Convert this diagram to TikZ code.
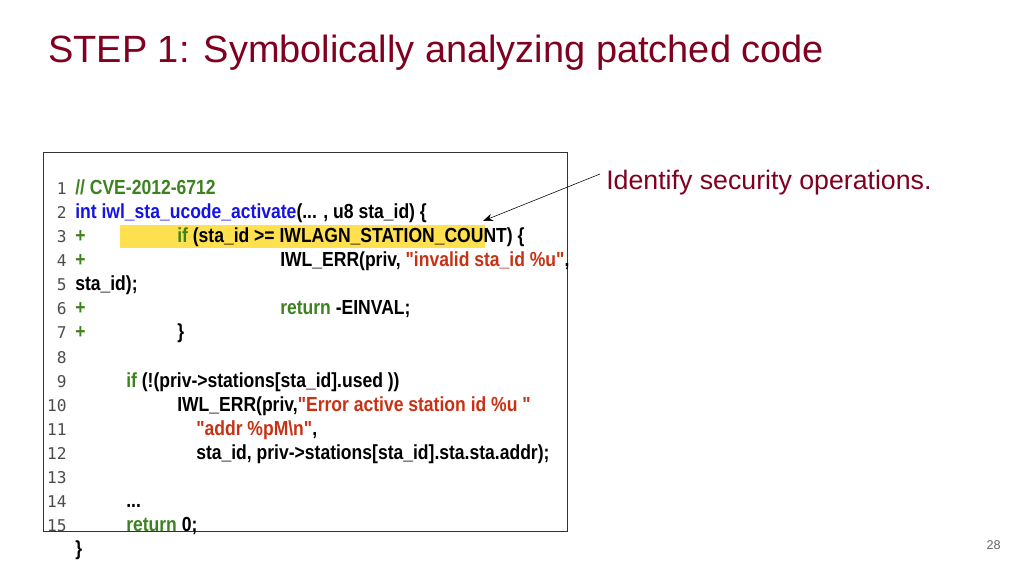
\documentclass[tikz,border=0pt]{standalone}
\usepackage{fontspec}
\setmainfont{Liberation Sans}
\newfontfamily\codefont[FakeStretch=0.86]{Liberation Sans}
\newfontfamily\numfont{DejaVu Sans Mono}
\usetikzlibrary{positioning,arrows.meta}
\definecolor{titlered}{RGB}{128,0,32}
\definecolor{kwblue}{RGB}{20,20,230}
\definecolor{kwgreen}{RGB}{60,130,30}
\definecolor{strred}{RGB}{200,50,20}
\definecolor{hlyellow}{RGB}{255,225,80}
\tikzset{
  code/.style={anchor=base west,inner sep=0pt,font=\codefont\bfseries\fontsize{14.5}{16}\selectfont},
  lineno/.style={anchor=base east,inner sep=0pt,text=black!70,font=\numfont\fontsize{11.5}{13}\selectfont}
}
\newcommand{\kwb}[1]{\textcolor{kwblue}{#1}}
\newcommand{\kwg}[1]{\textcolor{kwgreen}{#1}}
\newcommand{\str}[1]{\textcolor{strred}{#1}}
\begin{document}
\begin{tikzpicture}[x=0.025cm,y=-0.025cm]
    \useasboundingbox[fill=white] (0,0) rectangle (1024,576);
    \node[anchor=base west,inner sep=0pt,text=titlered,font=\fontsize{27}{31}\selectfont] (title) at (48,63) {STEP 1: Symbolically analyzing patched code};
    % code box
    \draw[black!80] (43,152) rectangle (567,531);
    \fill[hlyellow] (120,225) rectangle (485,248);
    \foreach \n in {1,...,15}
        \node[lineno] (n\n) at (67,{171+24*\n}) {\n};
    \node[code] (l1) at (75,195) {\kwg{// CVE-2012-6712}};
    \node[code] (l2) at (75,219) {\kwb{int iwl\_sta\_ucode\_activate}(... , u8 sta\_id) \{};
    \node[code] (l3a) at (75,243) {\kwg{+}};
    \node[code] (l3) at (177,243) {\kwg{if} (sta\_id >= IWLAGN\_STATION\_COUNT) \{};
    \node[code] (l4a) at (75,267) {\kwg{+}};
    \node[code] (l4) at (280,267) {IWL\_ERR(priv, \str{"invalid sta\_id \%u"},};
    \node[code] (l5) at (75,291) {sta\_id);};
    \node[code] (l6a) at (75,315) {\kwg{+}};
    \node[code] (l6) at (280,315) {\kwg{return} -EINVAL;};
    \node[code] (l7a) at (75,339) {\kwg{+}};
    \node[code] (l7) at (177,339) {\}};
    \node[code] (l9) at (126,387) {\kwg{if} (!(priv->stations[sta\_id].used ))};
    \node[code] (l10) at (177,411) {IWL\_ERR(priv,\str{"Error active station id \%u "}};
    \node[code] (l11) at (196,435) {\str{"addr \%pM\textbackslash n"},};
    \node[code] (l12) at (196,459) {sta\_id, priv->stations[sta\_id].sta.sta.addr);};
    \node[code] (l14) at (126,507) {...};
    \node[code] (l15) at (126,531) {\kwg{return} 0;};
    \node[code] (l16) at (75,555) {\}};
    % annotation
    \node[anchor=base west,inner sep=0pt,text=titlered,font=\fontsize{19}{22}\selectfont] (note) at (606,190) {Identify security operations.};
    \coordinate (tip) at (483,221);
    \draw[-{Stealth[length=7pt]},thin] (600,174) -- (tip);
    \node[anchor=base east,inner sep=0pt,text=black!60,font=\fontsize{9}{11}\selectfont] (page) at (1001,549) {28};
\end{tikzpicture}
\end{document}
